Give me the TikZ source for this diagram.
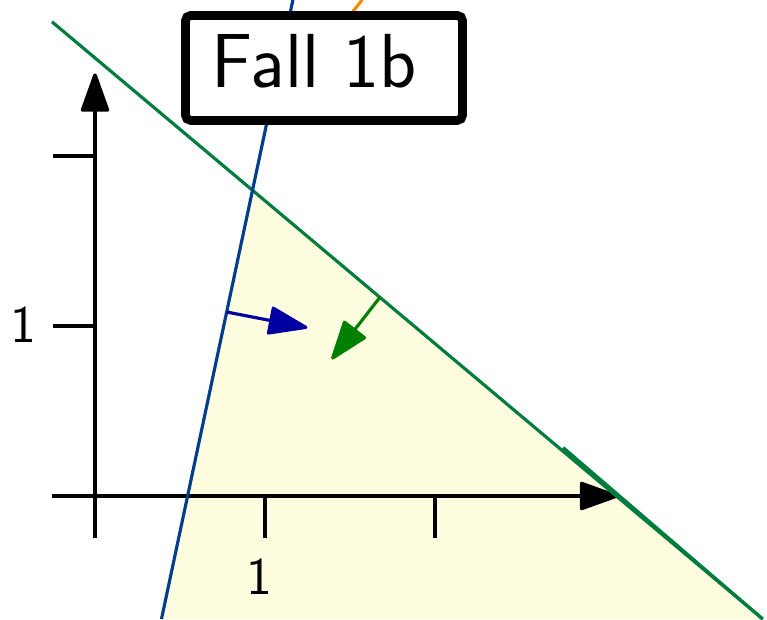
\documentclass[tikz,border=0pt]{standalone}
\usepackage{fontspec}
\usetikzlibrary{arrows.meta, calc}

\definecolor{feasible}{RGB}{255,253,224}
\definecolor{gline}{RGB}{0,125,62}
\definecolor{bline}{RGB}{0,62,140}
\definecolor{oline}{RGB}{245,140,0}
\definecolor{barrow}{RGB}{0,0,160}
\definecolor{garrow}{RGB}{0,128,0}

\begin{document}
\begin{tikzpicture}[
    scale=1.7,
    >={Triangle[length=4.2mm, width=2.9mm, round]},
    axis/.style={->, line width=1pt, black},
    tickmark/.style={line width=1pt, black},
    ticklabel/.style={font=\sffamily\fontsize{15}{18}\selectfont, inner sep=0pt},
    constraint/.style={line width=0.9pt},
    normal/.style={->, line width=0.9pt},
    title/.style={draw, line width=2.5pt, rounded corners=1.5pt, fill=white,
        minimum width=2.77cm, minimum height=1.05cm, inner sep=0pt,
        text depth=1.4mm, font=\sffamily\fontsize{21.8}{26}\selectfont}
]

    \useasboundingbox (-0.5588,-0.7235) rectangle (3.9529,2.9176);

    \def\tk{0.247}

    % constraint lines
    \coordinate (Gtop) at (-0.253,2.789);
    \coordinate (Gbot) at (3.927,-0.7235);
    \coordinate (Gmid) at (2.753,0.285);
    \coordinate (Bbot) at (0.391,-0.7235);
    \coordinate (Btop) at (1.164,2.9176);
    \coordinate (Otop) at (1.571,2.9176);
    \coordinate (Oend) at (1.200,2.450);
    \coordinate (I) at (0.927,1.798);

    % normal vectors
    \coordinate (Bn) at (0.775,1.082);
    \coordinate (Bt) at (1.249,0.990);
    \coordinate (Gn) at (1.676,1.169);
    \coordinate (Gt) at (1.392,0.804);

    \fill[feasible] (I) -- (Gbot) -- (Bbot) -- cycle;

    \draw[axis] (0,-\tk) -- (0,2.486);
    \draw[axis] (-0.253,0) -- (3.078,0);

    \foreach \x in {1,2} {
        \draw[tickmark] (\x,0) -- (\x,-\tk);
        \draw[tickmark] (0,\x) -- (-\tk,\x);
    }
    \node[ticklabel] (xone) at (0.97,-0.476) {1};
    \node[ticklabel] (yone) at (-0.424,1.006) {1};

    \draw[constraint, gline] (Gtop) -- (Gbot);
    \draw[constraint, gline] (Gmid) -- (Gbot);
    \draw[constraint, bline] (Bbot) -- (Btop);
    \draw[constraint, oline] (Otop) -- (Oend);

    \draw[normal, barrow] (Bn) -- (Bt);
    \draw[normal, garrow] (Gn) -- (Gt);

    \node[title] (fall) at (1.347,2.518) {Fall 1b\hspace*{0.2cm}};

\end{tikzpicture}
\end{document}
